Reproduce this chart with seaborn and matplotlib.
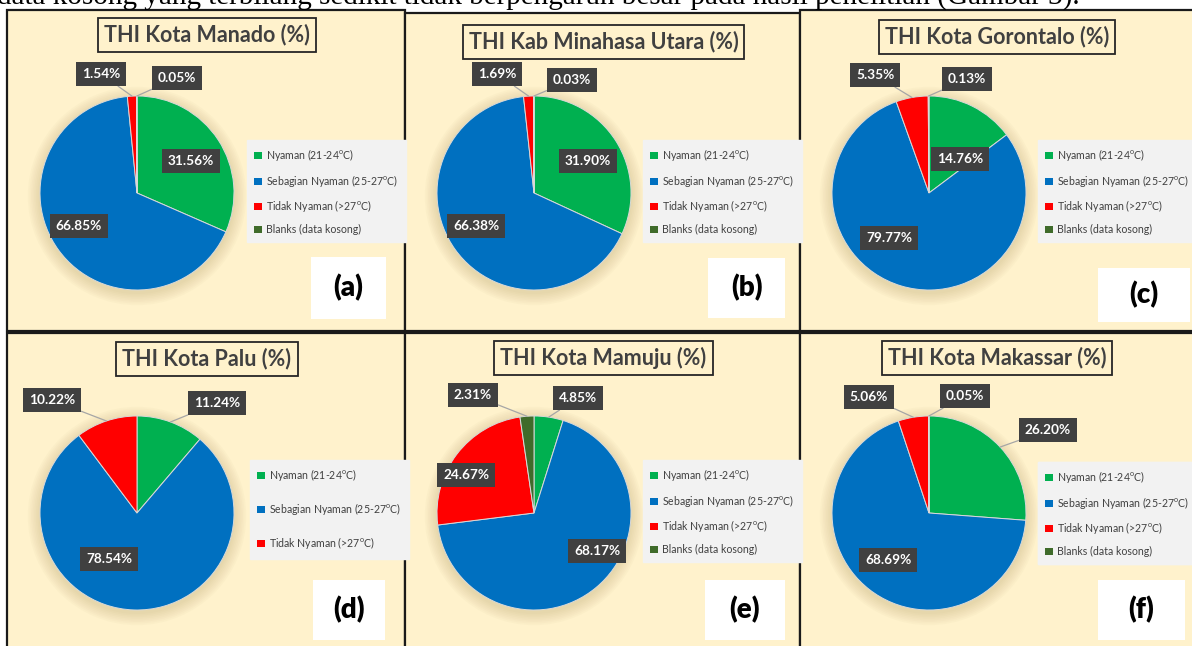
import numpy as np
import matplotlib
matplotlib.use('Agg')
import matplotlib.pyplot as plt
from matplotlib.patches import Rectangle, Circle, Patch
import seaborn as sns

sns.set_theme(style='white')
plt.rcParams['font.family'] = ['Lato', 'DejaVu Sans']
plt.rcParams['mathtext.default'] = 'regular'

# data
categories = ['Nyaman (21-24$^{o}$C)', 'Sebagian Nyaman (25-27$^{o}$C)',
              'Tidak Nyaman (>27$^{o}$C)', 'Blanks (data kosong)']
colors = ['#00B050', '#0070C0', '#FF0000', '#3F6B2A']
titles = ['THI Kota Manado (%)', 'THI Kab Minahasa Utara (%)', 'THI Kota Gorontalo (%)',
          'THI Kota Palu (%)', 'THI Kota Mamuju (%)', 'THI Kota Makassar (%)']
tags = ['(a)', '(b)', '(c)', '(d)', '(e)', '(f)']

manado = [31.56, 66.85, 1.54, 0.05]
minahasa_utara = [31.90, 66.38, 1.69, 0.03]
gorontalo = [14.76, 79.77, 5.35, 0.13]
palu = [11.24, 78.54, 10.22]
mamuju = [4.85, 68.17, 24.67, 2.31]
makassar = [26.20, 68.69, 5.06, 0.05]
series = [manado, minahasa_utara, gorontalo, palu, mamuju, makassar]

caption = ('data kosong yang terbilang sedikit tidak berpengaruh besar '
           'pada hasil penelitian (Gambar 3).')

# layout (pixels, origin top-left)
W, H = 1192, 646
R = 97
panels = [
    dict(rect=(7, 10, 405, 331), center=(137, 193), title_y=35, legend=(247, 140),
         tag=(311, 257, 386, 319), offs=[(54, -32), (-58, 33), (-36, -119), (40, -115)]),
    dict(rect=(405, 13, 800, 331), center=(534, 193), title_y=42, legend=(643, 140),
         tag=(708, 258, 785, 318), offs=[(54, -32), (-58, 33), (-37, -119), (38, -113)]),
    dict(rect=(800, 10, 1196, 331), center=(929, 193), title_y=37, legend=(1038, 140),
         tag=(1098, 268, 1190, 322), offs=[(31, -34), (-40, 45), (-54, -118), (38, -114)]),
    dict(rect=(7, 333, 405, 652), center=(137, 513), title_y=359, legend=(250, 460),
         tag=(313, 580, 385, 640), offs=[(80, -110), (-28, 46), (-85, -113)]),
    dict(rect=(405, 333, 800, 652), center=(534, 513), title_y=358, legend=(643, 460),
         tag=(705, 580, 785, 640), offs=[(44, -115), (63, 38), (-68, -38), (-61, -118)]),
    dict(rect=(800, 333, 1196, 652), center=(929, 513), title_y=358, legend=(1038, 462),
         tag=(1098, 580, 1185, 640), offs=[(119, -83), (-41, 47), (-60, -116), (36, -117)]),
]


def py(y):
    return H - y


fig = plt.figure(figsize=(11.92, 6.46), dpi=100)
ax = fig.add_axes([0, 0, 1, 1])

# caption line of the page, only its lower part shows above the panels
ax.text(-3, py(4), caption, family=['Liberation Serif'], fontsize=21,
        va='baseline', ha='left', color='black')

for p, vals, title, tag in zip(panels, series, titles, tags):
    x0, y0, x1, y1 = p['rect']
    ax.add_patch(Rectangle((x0, py(y1)), x1 - x0, y1 - y0, fc='#FFF2CC',
                           ec='#1A1A1A', lw=1.6, zorder=0))
    cx, cy = p['center']
    n = len(vals)

    # soft shadow round the pie
    for k in range(8):
        ax.add_patch(Circle((cx, py(cy) - 3), R + 1 + k * 1.6, fc='#A8915A',
                            ec='none', alpha=0.035, zorder=1))

    wedges, _ = ax.pie(vals, colors=colors[:n], startangle=90, counterclock=False,
                       radius=R, center=(cx, py(cy)), frame=True,
                       wedgeprops=dict(edgecolor='#D9D9D9', linewidth=0.7))
    for w in wedges:
        w.set_zorder(2)

    # data labels
    for w, v, (dx, dy) in zip(wedges, vals, p['offs']):
        mid = np.deg2rad((w.theta1 + w.theta2) / 2)
        anchor = (cx + R * np.cos(mid), py(cy) + R * np.sin(mid))
        pos = (cx + dx, py(cy + dy))
        box = dict(boxstyle='square,pad=0.45', fc='#404040', ec='none')
        arrow = None
        if np.hypot(dx, dy) > R * 0.95:
            arrow = dict(arrowstyle='-', color='#A6A6A6', lw=0.9,
                         shrinkA=0, shrinkB=0)
        ax.annotate(f'{v:.2f}%', xy=anchor, xytext=pos, ha='center', va='center',
                    fontsize=9.8, fontweight='bold', color='white', bbox=box,
                    arrowprops=arrow, zorder=5)

    # title
    ax.text((x0 + min(x1, W)) / 2 + 1, py(p['title_y']), title, ha='center', va='center',
            fontsize=15.5, fontweight='bold', color='#404040', zorder=5,
            bbox=dict(boxstyle='square,pad=0.28', fc='#FFF2CC', ec='#262626', lw=1.3))

    # legend
    lx, ly = p['legend']
    handles = [Patch(fc=c, ec='none') for c in colors[:n]]
    leg = ax.legend(handles=handles, labels=categories[:n], loc='upper left',
                    bbox_to_anchor=(lx, py(ly)), bbox_transform=ax.transData,
                    fontsize=7.6, frameon=True, facecolor='#F2F2F2', edgecolor='#F2F2F2',
                    fancybox=False, framealpha=1, handlelength=0.7, handleheight=0.7,
                    handletextpad=0.4, labelspacing=0.9 if n == 4 else 1.7,
                    borderpad=0.7, borderaxespad=0)
    for t in leg.get_texts():
        t.set_color('#404040')
    ax.add_artist(leg)

    # panel tag
    tx0, ty0, tx1, ty1 = p['tag']
    ax.add_patch(Rectangle((tx0, py(ty1)), tx1 - tx0, ty1 - ty0, fc='white',
                           ec='none', zorder=3))
    ax.text((tx0 + tx1) / 2, py((ty0 + ty1) / 2), tag, ha='center', va='center',
            fontsize=20, fontweight='heavy', color='black', zorder=4)

ax.set_xlim(0, W)
ax.set_ylim(0, H)
ax.set_aspect('equal')
ax.axis('off')

fig.savefig('out.png', dpi=100, facecolor='white')
